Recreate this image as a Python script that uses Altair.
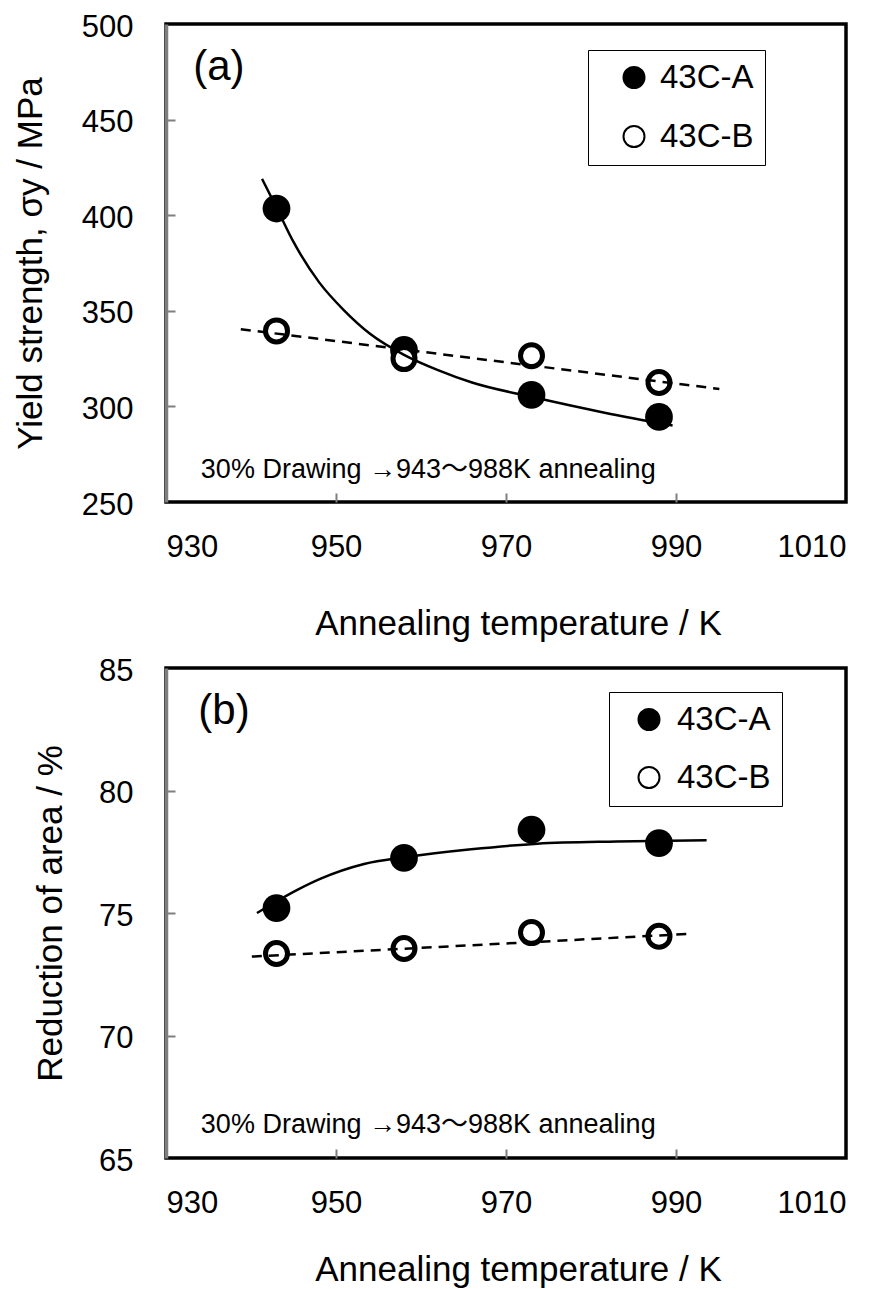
import altair as alt
import pandas as pd

FONT = "Liberation Sans"
FONT_NOTE = "Liberation Sans, Noto Sans CJK JP"

# ---------------- data ----------------
temps = [943, 958, 973, 988]
series_names = ["43C-A", "43C-B"]

# (a) yield strength / MPa
ys_A = [403.5, 329.5, 306.0, 294.5]
ys_B = [339.5, 325.0, 326.5, 312.5]
# drawn trend lines in (a)
ys_curveA_T = [941.3, 943, 945, 948, 951, 954, 958, 962, 966, 973, 981.6, 989.6]
ys_curveA_v = [419, 404, 386, 365, 350, 338, 327, 319, 312.5, 305, 296.7, 290]
ys_lineB_T = [938.8, 995.1]
ys_lineB_v = [340.4, 309.1]

# (b) reduction of area / %
ra_A = [75.2, 77.25, 78.4, 77.85]
ra_B = [73.35, 73.55, 74.2, 74.05]
ra_curveA_T = [940.7, 943, 945.5, 948.2, 953.3, 958.2, 965.9, 973.7, 983, 993.6]
ra_curveA_v = [75.0, 75.47, 75.95, 76.4, 77.0, 77.28, 77.6, 77.83, 77.92, 77.97]
ra_lineB_T = [940.1, 991.8]
ra_lineB_v = [73.22, 74.15]

x_ticks = [930, 950, 970, 990, 1010]
x_inner = [950, 970, 990]
ys_ticks = [250, 300, 350, 400, 450, 500]
ys_inner = [300, 350, 400, 450]
ra_ticks = [65, 70, 75, 80, 85]
ra_inner = [70, 75, 80]

note_text = "30% Drawing →943〜988K annealing"
x_title = "Annealing temperature / K"
ys_title = "Yield strength, σy / MPa"
ra_title = "Reduction of area / %"

W = 680


def panel(vA, vB, cT, cV, lT, lV, ydom, yticks, yinner, ytitle, ytpad, xtpad,
          tag, tag_pos, note_pos, leg_x, leg_y, sym_off, lab_off, row_pad, H):
    pts = pd.DataFrame({
        "T": temps + temps,
        "v": vA + vB,
        "series": [series_names[0]] * 4 + [series_names[1]] * 4,
    })
    curve = pd.DataFrame({"T": cT, "v": cV})
    line = pd.DataFrame({"T": lT, "v": lV})
    tag_df = pd.DataFrame({"T": [tag_pos[0]], "v": [tag_pos[1]], "t": [tag]})
    note_df = pd.DataFrame({"T": [note_pos[0]], "v": [note_pos[1]], "t": [note_text]})

    xs = alt.Scale(domain=[930, 1010], nice=False, zero=False)
    ysc = alt.Scale(domain=ydom, nice=False, zero=False)

    x_axis = alt.Axis(values=x_ticks, format="d", ticks=False, tickSize=0, domain=False, grid=False,
                      labelFontSize=31, labelPadding=30, labelFont=FONT, labelColor="black",
                      title=x_title, titleFontSize=35, titleFont=FONT, titleFontWeight="normal",
                      titleColor="black", titlePadding=xtpad, titleX=352)
    y_axis = alt.Axis(values=yticks, format="d", ticks=False, tickSize=0, domain=True,
                      domainColor="#7f7f7f", domainWidth=3.5, grid=False, labelFontSize=31,
                      labelPadding=33, labelOffset=3, labelFont=FONT, labelColor="black",
                      title=ytitle, titleFontSize=35, titleFont=FONT, titleFontWeight="normal",
                      titleColor="black", titlePadding=ytpad, zindex=1)

    legend = alt.Legend(orient="none", legendX=leg_x, legendY=leg_y, title=None,
                        labelFontSize=33, labelFont=FONT, labelColor="black",
                        symbolType="circle", symbolSize=441, symbolStrokeColor="black",
                        symbolStrokeWidth=2, strokeColor="black", padding=11,
                        rowPadding=row_pad, symbolOffset=sym_off, labelOffset=lab_off)
    fill = alt.Fill("series:N", scale=alt.Scale(domain=series_names, range=["black", "white"]),
                    legend=legend)

    xn = alt.X("T:Q", scale=xs, axis=None)
    yn = alt.Y("v:Q", scale=ysc, axis=None)

    ptsA = alt.Chart(pts).transform_filter(alt.datum.series == series_names[0]).mark_point(
        shape="circle", filled=True, size=770, strokeWidth=0, opacity=1
    ).encode(x=alt.X("T:Q", scale=xs, axis=x_axis), y=alt.Y("v:Q", scale=ysc, axis=y_axis), fill=fill)

    ptsB = alt.Chart(pts).transform_filter(alt.datum.series == series_names[1]).mark_point(
        shape="circle", filled=True, size=484, stroke="black", strokeWidth=5, opacity=1
    ).encode(x=xn, y=yn, fill=fill)

    curveA = alt.Chart(curve).mark_line(color="black", strokeWidth=2.5, interpolate="monotone").encode(x=xn, y=yn)
    lineB = alt.Chart(line).mark_line(color="black", strokeWidth=2.5, strokeDash=[10, 7]).encode(x=xn, y=yn)

    tag_layer = alt.Chart(tag_df).mark_text(align="left", baseline="alphabetic", fontSize=42,
                                            font=FONT, color="black").encode(x=xn, y=yn, text="t:N")
    note_layer = alt.Chart(note_df).mark_text(align="left", baseline="alphabetic", fontSize=27,
                                              font=FONT_NOTE, color="black").encode(x=xn, y=yn, text="t:N")

    tick_layer = alt.Chart(pts).mark_point(opacity=0).encode(
        x=alt.X("T:Q", scale=xs, axis=alt.Axis(orient="top", offset=-H, values=x_inner, labels=False,
                                                domain=False, ticks=True, tickColor="#7f7f7f",
                                                tickWidth=2, tickSize=9, grid=False, title=None)),
        y=alt.Y("v:Q", scale=ysc, axis=alt.Axis(orient="right", offset=-W, values=yinner, labels=False,
                                                 domain=False, ticks=True, tickColor="#7f7f7f",
                                                 tickWidth=2, tickSize=9, grid=False, title=None)),
    )

    return alt.layer(ptsA, ptsB, curveA, lineB, tag_layer, note_layer, tick_layer).resolve_scale(
        x="independent", y="independent").properties(width=W, height=H)


pa = panel(ys_A, ys_B, ys_curveA_T, ys_curveA_v, ys_lineB_T, ys_lineB_v, [250, 500], ys_ticks, ys_inner,
           ys_title, 33, 44, "(a)", (933.2, 470.7), (934.1, 262.5), 422, 26, 18.5, 9.5, 25, 478)
pb = panel(ra_A, ra_B, ra_curveA_T, ra_curveA_v, ra_lineB_T, ra_lineB_v, [65, 85], ra_ticks, ra_inner,
           ra_title, 30, 34, "(b)", (933.8, 82.72), (934.1, 66.04), 443, 24, 12.5, 11.5, 24, 490)

chart = alt.vconcat(pa, pb, spacing=166, bounds="flush").resolve_scale(
    x="independent", y="independent", fill="independent"
).resolve_legend(fill="independent").configure(
    font=FONT
).configure_view(
    stroke="black", strokeWidth=3.5
).properties(
    padding={"left": 3, "top": 1, "right": 5, "bottom": 5}
)

chart.save("out.html", embed_options={"renderer": "svg", "actions": False})
